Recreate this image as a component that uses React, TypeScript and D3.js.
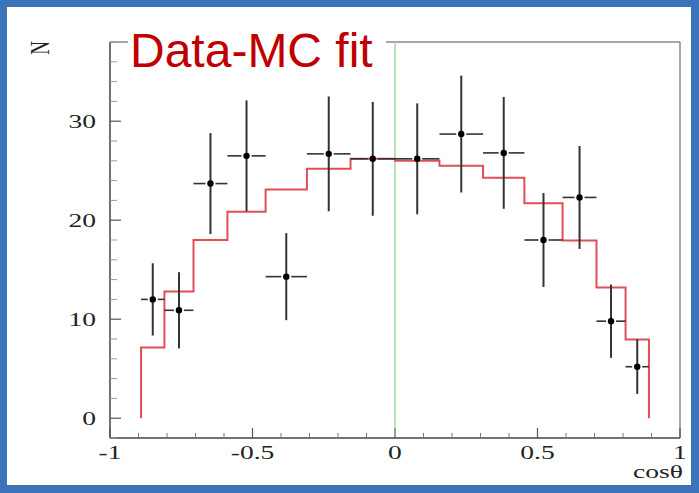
import React from "react";
import * as d3 from "d3";

const binEdges = [-0.891, -0.809, -0.707, -0.588, -0.454, -0.309, -0.156, 0, 0.156, 0.309, 0.454, 0.588, 0.707, 0.809, 0.891];
const dataValues = [12.0, 10.9, 23.7, 26.5, 14.3, 26.7, 26.2, 26.2, 28.7, 26.8, 18.0, 22.3, 9.8, 5.2];
const dataErrors = [3.65, 3.85, 5.1, 5.6, 4.4, 5.8, 5.75, 5.6, 5.9, 5.65, 4.75, 5.2, 3.7, 2.75];
const mcValues = [7.15, 12.8, 18.0, 20.85, 23.1, 25.2, 26.2, 26.0, 25.5, 24.3, 21.7, 17.95, 13.2, 7.95];
const xMajorTicks = [-1, -0.5, 0, 0.5, 1];
const xTickLabels = ["-1", "-0.5", "0", "0.5", "1"];
const yMajorTicks = [0, 10, 20, 30];
const yTickLabels = ["0", "10", "20", "30"];
const title = "Data-MC fit";
const xTitle = "cosθ";
const yTitle = "N";

const W = 699;
const H = 493;
const left = 110, right = 680, top = 42, bottom = 438;
const SERIF = "'Liberation Serif', 'DejaVu Serif', serif";
const SX = 1.45;

export default function App() {
  const x = d3.scaleLinear().domain([-1, 1]).range([left, right]);
  const y = d3.scaleLinear().domain([-2, 38]).range([bottom, top]);

  const xMinor = d3.range(-10, 11).map((i) => i / 10).filter((v) => !xMajorTicks.some((m) => Math.abs(m - v) < 1e-9));
  const yMinor = d3.range(-2, 39, 2).filter((v) => v % 10 !== 0);

  const pts: [number, number][] = [];
  pts.push([binEdges[0], 0]);
  mcValues.forEach((v, i) => {
    pts.push([binEdges[i], v]);
    pts.push([binEdges[i + 1], v]);
  });
  pts.push([binEdges[binEdges.length - 1], 0]);
  const line = d3.line<[number, number]>().x((d) => x(d[0])).y((d) => y(d[1]));

  const gap = 5;

  return (
    <svg width={W} height={H} style={{ position: "fixed", left: 0, top: 0, background: "#fff" }}>
      <rect x={0} y={0} width={W} height={H} fill="#fff" />
      {/* frame */}
      <line x1={left} x2={right} y1={top} y2={top} stroke="#8a8a8a" strokeWidth={1.5} />
      <line x1={right} x2={right} y1={top} y2={bottom} stroke="#8a8a8a" strokeWidth={1.5} />
      <line x1={left} x2={left} y1={top} y2={bottom} stroke="#444" strokeWidth={1.5} />
      <line x1={left} x2={right} y1={bottom} y2={bottom} stroke="#444" strokeWidth={1.5} />
      {/* y ticks */}
      {yMajorTicks.map((t, i) => (
        <g key={"ym" + t}>
          <line x1={left} x2={left + 11} y1={y(t)} y2={y(t)} stroke="#555" strokeWidth={1.2} />
          <text transform={`translate(96,${y(t) + 6.5}) scale(${SX},1)`} textAnchor="end" fontFamily={SERIF} fontSize={19} fill="#222">
            {yTickLabels[i]}
          </text>
        </g>
      ))}
      {yMinor.map((t) => (
        <line key={"yn" + t} x1={left} x2={left + 7} y1={y(t)} y2={y(t)} stroke="#999" strokeWidth={1} />
      ))}
      {/* x ticks */}
      {xMajorTicks.map((t, i) => (
        <g key={"xm" + t}>
          <line x1={x(t)} x2={x(t)} y1={bottom} y2={bottom - 10} stroke="#555" strokeWidth={1.2} />
          <text transform={`translate(${x(t)},459) scale(${SX},1)`} textAnchor="middle" fontFamily={SERIF} fontSize={19} fill="#222">
            {xTickLabels[i]}
          </text>
        </g>
      ))}
      {xMinor.map((t) => (
        <line key={"xn" + t} x1={x(t)} x2={x(t)} y1={bottom} y2={bottom - 5} stroke="#777" strokeWidth={1} />
      ))}
      {/* axis titles */}
      <text transform={`translate(683,478) scale(${SX},1)`} textAnchor="end" fontFamily={SERIF} fontSize={19} fill="#222">
        {xTitle}
      </text>
      <text transform={`translate(49,48) scale(${SX},1) rotate(-90)`} textAnchor="middle" fontFamily={SERIF} fontSize={19} fill="#222">
        {yTitle}
      </text>
      {/* green zero line */}
      <line x1={x(0)} x2={x(0)} y1={top} y2={y(-1)} stroke="#9ee09e" strokeWidth={1.5} />
      {/* MC histogram */}
      <path d={line(pts) || ""} fill="none" stroke="#de4f57" strokeWidth={2} />
      {/* data points */}
      {dataValues.map((v, i) => {
        const cx = x((binEdges[i] + binEdges[i + 1]) / 2);
        const cy = y(v);
        return (
          <g key={"p" + i}>
            <line x1={cx} x2={cx} y1={y(v - dataErrors[i])} y2={y(v + dataErrors[i])} stroke="#333" strokeWidth={2} />
            <line x1={x(binEdges[i])} x2={cx - gap} y1={cy} y2={cy} stroke="#333" strokeWidth={1.6} />
            <line x1={cx + gap} x2={x(binEdges[i + 1])} y1={cy} y2={cy} stroke="#333" strokeWidth={1.6} />
            <circle cx={cx} cy={cy} r={3.2} fill="#000" />
          </g>
        );
      })}
      {/* title with white box */}
      <rect x={128} y={28} width={258} height={47} fill="#fff" />
      <text x={130} y={67} fontFamily="'Liberation Sans', Arial, sans-serif" fontSize={48} fill="#c00000">
        {title}
      </text>
      {/* blue border */}
      <rect x={0} y={0} width={W} height={7} fill="#3b74b9" />
      <rect x={0} y={0} width={7} height={H} fill="#3b74b9" />
      <rect x={691} y={0} width={8} height={H} fill="#3b74b9" />
      <rect x={0} y={485} width={W} height={8} fill="#3b74b9" />
    </svg>
  );
}
